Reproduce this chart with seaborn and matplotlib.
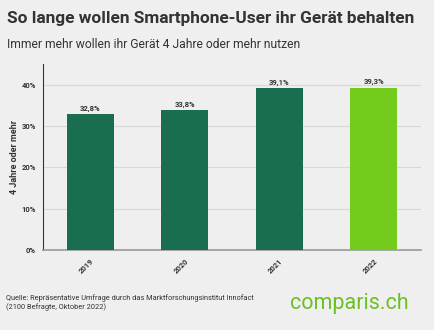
import matplotlib
matplotlib.use("Agg")
import matplotlib.pyplot as plt
import seaborn as sns
import pandas as pd
from matplotlib.ticker import FuncFormatter

years = ["2019", "2020", "2021", "2022"]
values = [32.8, 33.8, 39.1, 39.3]
labels = ["32,8%", "33,8%", "39,1%", "39,3%"]
colors = ["#1a6e50", "#1a6e50", "#1a6e50", "#73cc1c"]

sns.set_theme(style="white")
plt.rcParams['font.family'] = ['Roboto', 'DejaVu Sans']
bg = "#efefef"

df = pd.DataFrame({"year": years, "value": values})

fig = plt.figure(figsize=(4.34, 3.30), dpi=100, facecolor=bg)
ax = fig.add_axes([43/434, 1-250/330, (421-43)/434, (250-64)/330])
ax.set_facecolor(bg)

sns.barplot(data=df, x="year", y="value", hue="year", palette=colors,
            legend=False, width=0.5, ax=ax, saturation=1, zorder=3,
            linewidth=0, edgecolor="none")

ax.set_ylim(0, 45)
ax.set_xlim(-0.5, 3.5)
ax.set_yticks([0, 10, 20, 30, 40])
ax.yaxis.set_major_formatter(FuncFormatter(lambda v, p: f"{int(v)}%"))
ax.grid(axis="y", color="#d8d8d8", linewidth=0.8, zorder=0)
for s in ["top", "right"]:
    ax.spines[s].set_visible(False)
ax.spines["left"].set_color("#333333")
ax.spines["left"].set_linewidth(0.8)
ax.spines["bottom"].set_color("#999999")
ax.spines["bottom"].set_linewidth(1.2)
ax.tick_params(axis="y", length=3, color="#999999", labelsize=5.5, pad=2)
ax.tick_params(axis="x", length=3, color="#999999", labelsize=5.5, pad=2)
for t in ax.get_yticklabels():
    t.set_fontweight("bold")
    t.set_color("#333333")
for t in ax.get_xticklabels():
    t.set_rotation(45)
    t.set_fontweight("bold")
    t.set_color("#333333")
    t.set_ha("right")
    t.set_rotation_mode("anchor")
ax.set_xlabel("")
ax.set_ylabel("4 Jahre oder mehr", fontsize=6.5, fontweight="bold", color="#333333", labelpad=2)

for i, (v, lab) in enumerate(zip(values, labels)):
    ax.text(i, v + 0.6, lab, ha="center", va="bottom", fontsize=5.5,
            fontweight="bold", color="#333333")

fig.text(7/434, 1-18/330, "So lange wollen Smartphone-User ihr Gerät behalten",
         fontsize=12.4, fontweight="bold", color="#333333", va="center")
fig.text(7/434, 1-44/330, "Immer mehr wollen ihr Gerät 4 Jahre oder mehr nutzen",
         fontsize=8.75, color="#333333", va="center")
fig.text(6/434, 1-298/330, "Quelle: Repräsentative Umfrage durch das Marktforschungsinstitut Innofact",
         fontsize=5.3, color="#333333", va="center")
fig.text(6/434, 1-307/330, "(2100 Befragte, Oktober 2022)",
         fontsize=5.3, color="#333333", va="center")
fig.text(290/434, 1-303/330, "comparis.ch", fontsize=15.5, color="#6cc024", va="center")

fig.savefig("out.png", dpi=100, facecolor=bg)
